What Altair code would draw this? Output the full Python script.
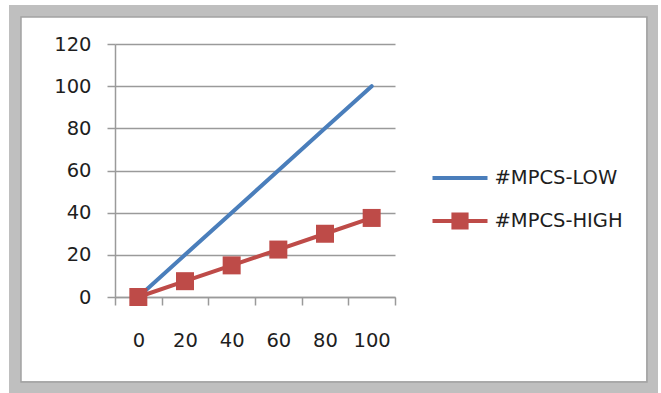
import altair as alt
import pandas as pd

# ---- data ----
x_values = [0, 20, 40, 60, 80, 100]
low_values = [0, 20, 40, 60, 80, 100]
high_values = [0, 7.5, 15, 22.5, 30, 37.5]
series_names = ["#MPCS-LOW", "#MPCS-HIGH"]
y_ticks = [0, 20, 40, 60, 80, 100, 120]
x_tick_positions = [-10, 10, 30, 50, 70, 90, 110]

BLUE = "#4a7ebb"
RED = "#be4b48"
GRID = "#9a9a9a"
TEXT = "#1e1e1e"
FONT = "DejaVu Sans"
FSIZE = 19.5

df = pd.DataFrame({
    "x": x_values * 2,
    "y": low_values + high_values,
    "series": [series_names[0]] * len(x_values) + [series_names[1]] * len(x_values),
})

x_enc = alt.X(
    "x:Q",
    scale=alt.Scale(domain=[-10, 110], nice=False, zero=False),
    axis=alt.Axis(
        values=x_tick_positions,
        labelExpr="datum.value < 100 ? format(datum.value + 10, 'd') : ''",
        labelOffset=23.33,
        labelFlush=False,
        labelOverlap=False,
        grid=False,
        tickSize=8,
        tickColor=GRID,
        tickWidth=1.5,
        domainColor=GRID,
        domainWidth=1.5,
        labelPadding=26,
        labelFontSize=FSIZE,
        labelFont=FONT,
        labelColor=TEXT,
        title=None,
    ),
)
y_enc = alt.Y(
    "y:Q",
    scale=alt.Scale(domain=[0, 120], nice=False),
    axis=alt.Axis(
        values=y_ticks,
        grid=True,
        gridColor=GRID,
        gridWidth=1.5,
        tickSize=8,
        tickColor=GRID,
        tickWidth=1.5,
        domainColor=GRID,
        domainWidth=1.5,
        labelPadding=16,
        labelFontSize=FSIZE,
        labelFont=FONT,
        labelColor=TEXT,
        title=None,
    ),
)

base = alt.Chart(df)

line_low = base.transform_filter(alt.datum.series == series_names[0]).mark_line(
    color=BLUE, strokeWidth=4, strokeCap="round"
).encode(x=x_enc, y=y_enc)

line_high = base.transform_filter(alt.datum.series == series_names[1]).mark_line(
    color=RED, strokeWidth=4, strokeCap="round"
).encode(x=x_enc, y=y_enc)

pts_high = base.transform_filter(alt.datum.series == series_names[1]).mark_square(
    color=RED, size=324, opacity=1
).encode(x=x_enc, y=y_enc)

legend_paths = [
    "M-2.5,-0.19H2.5V0.19H-2.5Z",
    "M-2.5,-0.19H2.5V0.19H-2.5Z M-0.78,-0.78H0.78V0.78H-0.78Z",
]

legend_layer = base.transform_filter("false").mark_point(
    filled=True, opacity=1, size=484
).encode(
    x=x_enc,
    y=y_enc,
    color=alt.Color(
        "series:N",
        scale=alt.Scale(domain=series_names, range=[BLUE, RED]),
        legend=alt.Legend(
            orient="none",
            legendX=334,
            legendY=123,
            title=None,
            symbolSize=484,
            symbolStrokeWidth=0,
            symbolOpacity=1,
            labelFontSize=FSIZE,
            labelFont=FONT,
            labelColor=TEXT,
            labelOffset=23.5,
            rowPadding=22,
            padding=0,
        ),
    ),
    shape=alt.Shape(
        "series:N",
        scale=alt.Scale(domain=series_names, range=legend_paths),
    ),
)

frame_df = pd.DataFrame({"k": [0]})
frame = alt.Chart(frame_df).mark_rect(
    fill=None, stroke="#bfbfbf", strokeWidth=12
).encode(
    x=alt.value(-100), x2=alt.value(537), y=alt.value(-33), y2=alt.value(343)
)
frame_inner = alt.Chart(frame_df).mark_rect(
    fill=None, stroke="#a3a3a3", strokeWidth=1.5
).encode(
    x=alt.value(-94), x2=alt.value(532), y=alt.value(-27), y2=alt.value(338)
)

chart = alt.layer(frame, frame_inner, line_low, line_high, pts_high, legend_layer).properties(
    width=280,
    height=253,
    autosize=alt.AutoSizeParams(type="none"),
    padding={"left": 115, "top": 44, "right": 266, "bottom": 96},
    background="white",
).configure_view(stroke=None)

chart.save("out.html", embed_options={"renderer": "svg", "actions": False})
